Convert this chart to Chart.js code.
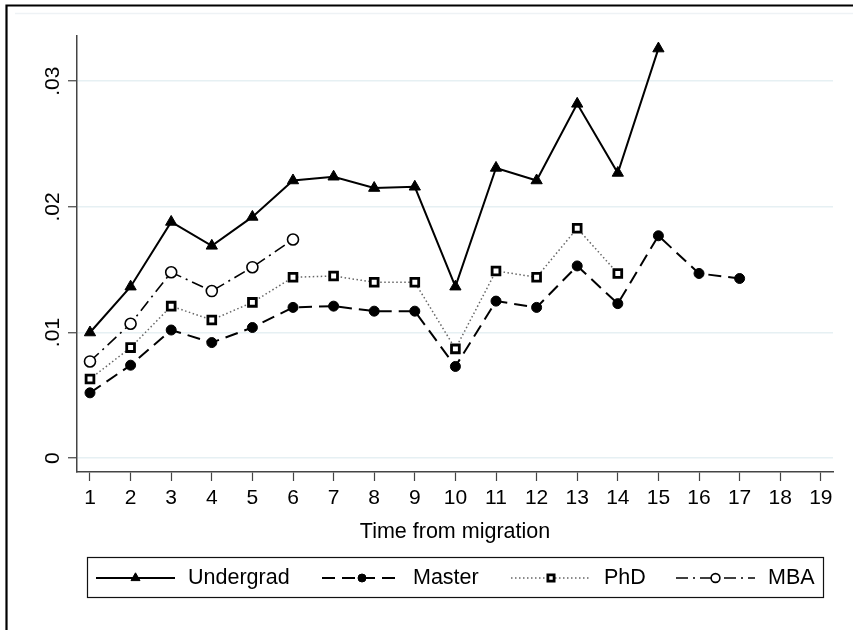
<!DOCTYPE html>
<html>
<head>
<meta charset="utf-8">
<script src="https://cdn.jsdelivr.net/npm/chart.js@4.4.1/dist/chart.umd.min.js"></script>
<style>
  html, body { margin: 0; padding: 0; background: #fff; }
  #wrap { width: 853px; height: 630px; }
</style>
</head>
<body>
<div id="wrap"><canvas id="chart" width="853" height="630"></canvas></div>
<script>
// Data
const years = [1, 2, 3, 4, 5, 6, 7, 8, 9, 10, 11, 12, 13, 14, 15, 16, 17, 18, 19];
const undergrad = [0.0100, 0.01365, 0.0188, 0.0169, 0.0192, 0.0221, 0.0224, 0.0215, 0.0216, 0.01365, 0.0231, 0.0221, 0.0282, 0.0227, 0.0326];
const master = [0.0052, 0.0074, 0.0102, 0.0092, 0.0104, 0.0120, 0.0121, 0.0117, 0.0117, 0.0073, 0.0125, 0.0120, 0.0153, 0.0123, 0.0177, 0.0147, 0.0143];
const phd = [0.0063, 0.0088, 0.0121, 0.0110, 0.0124, 0.0144, 0.0145, 0.0140, 0.0140, 0.0087, 0.0149, 0.0144, 0.0183, 0.0147];
const mba = [0.0077, 0.0107, 0.0148, 0.0133, 0.0152, 0.0174];
const yTicks = [0, 0.01, 0.02, 0.03];
const yTickLabels = ['0', '.01', '.02', '.03'];
const seriesNames = ['Undergrad', 'Master', 'PhD', 'MBA'];

const FONT = 'Arial, "Liberation Sans", sans-serif';
const TEXT = '#000';

function toPoints(values) {
    return values.map((v, i) => ({ x: years[i], y: v }));
}

// Series styles (Stata-like)
const styles = [
    { color: '#000', width: 2, dash: [], point: 'triangle', radius: 6.5, fill: '#000', pbw: 1 },
    { color: '#000', width: 2, dash: [13, 7], point: 'circle', radius: 5, fill: '#000', pbw: 1 },
    { color: '#666', width: 1.5, dash: [1.5, 2.5], point: 'rect', radius: 5.5, fill: '#fff', pbw: 2.8 },
    { color: '#000', width: 1.6, dash: [12, 5, 2, 5], point: 'circle', radius: 5.5, fill: '#fff', pbw: 1.6 }
];
const seriesData = [undergrad, master, phd, mba];

const datasets = seriesData.map((values, i) => {
    const s = styles[i];
    return {
        label: seriesNames[i],
        data: toPoints(values),
        borderColor: s.color,
        borderWidth: s.width,
        borderDash: s.dash,
        pointStyle: s.point,
        pointRadius: s.radius,
        pointBackgroundColor: s.fill,
        pointBorderColor: '#000',
        pointBorderWidth: s.pbw,
        tension: 0,
        fill: false
    };
});

function drawMarker(ctx, s, x, y) {
    ctx.save();
    ctx.setLineDash([]);
    ctx.fillStyle = s.fill;
    ctx.strokeStyle = '#000';
    ctx.lineWidth = s.pbw;
    Chart.helpers.drawPoint(ctx, { pointStyle: s.point, radius: s.radius, borderWidth: s.pbw, rotation: 0 }, x, y);
    ctx.restore();
}

// Frame, rotated y labels and the boxed legend
const stataDecor = {
    id: 'stataDecor',
    beforeDraw(chart) {
        const ctx = chart.ctx;
        ctx.save();
        ctx.strokeStyle = '#eef2f5';
        ctx.lineWidth = 1.5;
        ctx.beginPath();
        ctx.moveTo(15, 13.5);
        ctx.lineTo(853, 13.5);
        ctx.stroke();
        ctx.strokeStyle = '#000';
        ctx.lineWidth = 2.2;
        ctx.beginPath();
        ctx.moveTo(6.5, 640);
        ctx.lineTo(6.5, 5.5);
        ctx.lineTo(860, 5.5);
        ctx.stroke();
        ctx.restore();
    },
    afterDraw(chart) {
        const ctx = chart.ctx;
        const yScale = chart.scales.y;
        ctx.save();
        ctx.fillStyle = TEXT;
        ctx.font = '21px ' + FONT;
        ctx.textAlign = 'center';
        ctx.textBaseline = 'middle';
        yTicks.forEach((v, i) => {
            ctx.save();
            ctx.translate(53, yScale.getPixelForValue(v));
            ctx.rotate(-Math.PI / 2);
            ctx.fillText(yTickLabels[i], 0, 0);
            ctx.restore();
        });

        // legend box
        ctx.font = '21.5px ' + FONT;
        ctx.strokeStyle = '#111';
        ctx.lineWidth = 1.2;
        ctx.strokeRect(87.5, 557.5, 736, 40);
        const ly = 578;
        const items = [
            { x0: 96, x1: 175, tx: 188 },
            { x0: 322, x1: 402, tx: 413 },
            { x0: 511, x1: 591, tx: 604 },
            { x0: 676, x1: 755, tx: 768 }
        ];
        items.forEach((it, i) => {
            const s = styles[i];
            ctx.save();
            ctx.strokeStyle = s.color;
            ctx.lineWidth = s.width;
            ctx.setLineDash(s.dash);
            ctx.beginPath();
            ctx.moveTo(it.x0, ly);
            ctx.lineTo(it.x1, ly);
            ctx.stroke();
            ctx.restore();
            const ms = Object.assign({}, s, { radius: s.radius * 0.8 });
            drawMarker(ctx, ms, (it.x0 + it.x1) / 2, ly);
            ctx.fillStyle = TEXT;
            ctx.textAlign = 'left';
            ctx.textBaseline = 'middle';
            ctx.fillText(seriesNames[i], it.tx, ly);
        });
        ctx.restore();
    }
};

const chart = new Chart(document.getElementById('chart'), {
    type: 'line',
    data: { datasets: datasets },
    options: {
        responsive: false,
        animation: false,
        layout: { padding: { left: 0, right: 20, top: 36, bottom: 85 } },
        plugins: { legend: { display: false }, tooltip: { enabled: false } },
        scales: {
            x: {
                type: 'linear',
                min: 0.68,
                max: 19.3,
                afterBuildTicks: scale => { scale.ticks = years.map(v => ({ value: v })); },
                ticks: { font: { family: FONT, size: 21 }, color: TEXT, padding: 5, maxRotation: 0, autoSkip: false },
                grid: { drawOnChartArea: false, drawTicks: true, tickLength: 9, tickColor: '#444', tickWidth: 1.2 },
                border: { color: '#444', width: 1.5 },
                title: { display: true, text: 'Time from migration', font: { family: FONT, size: 21.5 }, color: TEXT, padding: 0 },
                afterFit: scale => { scale.height = 73; }
            },
            y: {
                min: -0.0011,
                max: 0.0336,
                afterBuildTicks: scale => { scale.ticks = yTicks.map(v => ({ value: v })); },
                ticks: { display: false },
                grid: { color: '#e6f0f3', lineWidth: 1.5, drawTicks: true, tickLength: 9, tickColor: '#444', tickWidth: 1.2 },
                border: { color: '#444', width: 1.5 },
                afterFit: scale => { scale.width = 77; }
            }
        }
    },
    plugins: [stataDecor]
});
</script>
</body>
</html>
